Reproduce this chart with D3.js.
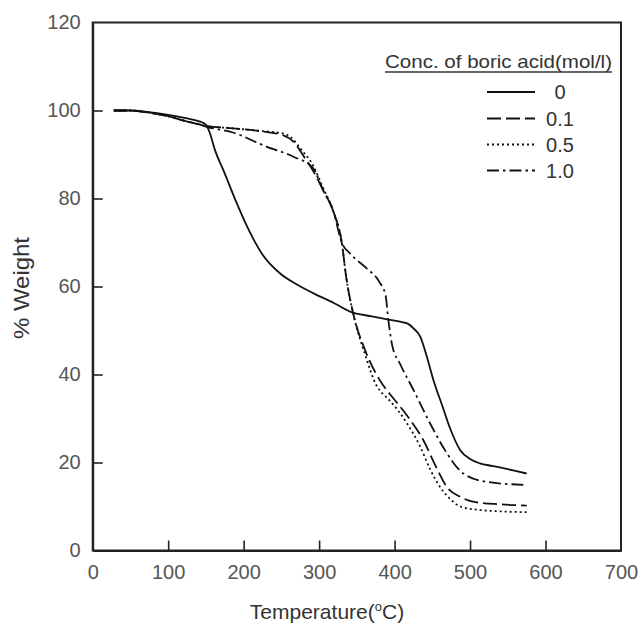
<!doctype html>
<html lang="en">

<head>
    <meta charset="utf-8" />
    <title>TGA boric acid</title>
    <script src="https://d3js.org/d3.v7.min.js"></script>
    <style>
        body {
            margin: 0;
            background: #fff;
        }

        text {
            font-family: "Liberation Sans", Arial, sans-serif;
        }
    </style>
</head>

<body>
    <div id="chart"></div>

    <script>
        // data (temperature in C, % weight)
        const xTicks = [0, 100, 200, 300, 400, 500, 600, 700]
        const yTicks = [0, 20, 40, 60, 80, 100, 120]
        const concLabels = ["0", "0.1", "0.5", "1.0"]

        const temp0 = [28, 50, 75, 100, 125, 140, 150, 155, 162, 173, 191, 205, 224, 248, 270, 292, 320, 341, 370, 394, 410, 418, 425, 434, 442, 451, 464, 473, 487, 500, 513, 530, 544, 560, 575]
        const weight0 = [100, 100, 99.6, 99, 98.2, 97.6, 96.8, 95, 91, 86.5, 78.9, 73.5, 67.5, 63, 60.5, 58.5, 56.2, 54.3, 53.2, 52.4, 51.9, 51.5, 50.5, 48.6, 44.5, 39, 32.5, 28, 22.8, 20.8, 19.8, 19.2, 18.7, 18.1, 17.5]

        const temp01 = [28, 50, 75, 100, 125, 140, 150, 182, 226, 252, 266, 280, 292, 305, 319, 330, 336, 345, 361, 376, 385, 394, 416, 438, 455, 469, 487, 504, 540, 575]
        const weight01 = [100, 100, 99.5, 98.7, 97.5, 96.9, 96.5, 96, 95.2, 94.4, 92.9, 89.5, 86.3, 82, 77, 70, 62, 54, 45.5, 40, 37.5, 35.5, 30.8, 25.1, 19, 14.5, 12.2, 11.1, 10.5, 10.2]

        const temp05 = [28, 50, 75, 100, 125, 140, 150, 182, 226, 252, 262, 275, 292, 305, 319, 330, 336, 345, 361, 376, 385, 394, 416, 434, 447, 460, 475, 487, 513, 540, 575]
        const weight05 = [100, 100, 99.5, 98.7, 97.5, 96.9, 96.5, 96, 95.3, 94.8, 94, 91.4, 87.5, 82.5, 77, 70, 62, 54, 44.5, 37.5, 35.5, 34, 29, 23.6, 18.5, 14.5, 11.5, 10, 9.2, 8.9, 8.7]

        const temp10 = [28, 50, 75, 100, 125, 140, 151, 186, 230, 266, 292, 305, 319, 330, 341, 363, 380, 388, 392, 397, 407, 425, 447, 464, 491, 522, 575]
        const weight10 = [100, 100, 99.5, 98.7, 97.5, 96.9, 96.3, 95, 91.8, 89.5, 86.9, 82, 77, 70, 67.5, 64.1, 61, 58, 52, 46.5, 42.5, 36.5, 28.9, 23.6, 17.5, 15.6, 14.9]

        const series = [
            { label: concLabels[0], t: temp0, w: weight0, dash: null },
            { label: concLabels[1], t: temp01, w: weight01, dash: "14,5" },
            { label: concLabels[2], t: temp05, w: weight05, dash: "2,3" },
            { label: concLabels[3], t: temp10, w: weight10, dash: "12,4,2.5,4" }
        ]

        const width = 640
        const height = 625
        const plotLeft = 92.7, plotRight = 621, plotTop = 22.5, plotBottom = 550.5

        const svg = d3.select("#chart")
            .append("svg")
            .attr("width", width)
            .attr("height", height)

        const x = d3.scaleLinear().domain([0, 700]).range([plotLeft, plotRight])
        const y = d3.scaleLinear().domain([0, 120]).range([plotBottom, plotTop])

        // frame
        svg.append("rect")
            .attr("x", plotLeft)
            .attr("y", plotTop)
            .attr("width", plotRight - plotLeft)
            .attr("height", plotBottom - plotTop)
            .attr("fill", "none")
            .attr("stroke", "#222")
            .attr("stroke-width", 2)

        // axes, ticks pointing inward
        const xAxis = svg.append("g")
            .attr("transform", `translate(0,${plotBottom})`)
            .call(d3.axisBottom(x).tickValues(xTicks).tickSizeInner(-10).tickSizeOuter(0).tickPadding(14))
        const yAxis = svg.append("g")
            .attr("transform", `translate(${plotLeft},0)`)
            .call(d3.axisLeft(y).tickValues(yTicks).tickSizeInner(-10).tickSizeOuter(0).tickPadding(12))

        for (const ax of [xAxis, yAxis]) {
            ax.select(".domain").attr("stroke", "#222").attr("stroke-width", 2)
            ax.selectAll(".tick line").attr("stroke", "#222").attr("stroke-width", 1.6)
            ax.selectAll(".tick text")
                .attr("fill", "#555")
                .style("font-size", "20px")
                .style("font-family", "'Liberation Sans', Arial, sans-serif")
        }
        // no tick marks at the frame corners
        xAxis.selectAll(".tick").filter(d => d == 0 || d == 700).select("line").remove()
        yAxis.selectAll(".tick").filter(d => d == 0 || d == 120).select("line").remove()

        // axis titles
        const xTitle = svg.append("text")
            .attr("x", 327)
            .attr("y", 619)
            .attr("text-anchor", "middle")
            .attr("fill", "#333")
            .style("font-size", "21px")
        xTitle.append("tspan").text("Temperature(")
        xTitle.append("tspan").text("o").style("font-size", "13px").attr("dy", -8)
        xTitle.append("tspan").text("C)").attr("dy", 8)

        svg.append("text")
            .attr("transform", "translate(29,288) rotate(-90)")
            .attr("text-anchor", "middle")
            .attr("fill", "#333")
            .attr("textLength", 102)
            .attr("lengthAdjust", "spacingAndGlyphs")
            .style("font-size", "22px")
            .text("% Weight")

        // curves
        const line = d3.line()
            .x(d => x(d[0]))
            .y(d => y(d[1]))
            .curve(d3.curveMonotoneX)

        series.forEach(s => {
            const pts = s.t.map((t, i) => [t, s.w[i]])
            svg.append("path")
                .datum(pts)
                .attr("d", line)
                .attr("fill", "none")
                .attr("stroke", "#111")
                .attr("stroke-width", 1.8)
                .attr("stroke-dasharray", s.dash)
        })

        // legend
        svg.append("text")
            .attr("x", 385)
            .attr("y", 68)
            .attr("fill", "#333")
            .attr("textLength", 227)
            .attr("lengthAdjust", "spacingAndGlyphs")
            .style("font-size", "19px")
            .text("Conc. of boric acid(mol/l)")
        svg.append("line")
            .attr("x1", 385).attr("x2", 612)
            .attr("y1", 72).attr("y2", 72)
            .attr("stroke", "#333")
            .attr("stroke-width", 1.3)

        const rowY = [92, 118.5, 144.5, 170.5]
        series.forEach((s, i) => {
            svg.append("line")
                .attr("x1", 487).attr("x2", 535)
                .attr("y1", rowY[i]).attr("y2", rowY[i])
                .attr("stroke", "#111")
                .attr("stroke-width", 1.8)
                .attr("stroke-dasharray", s.dash)
            svg.append("text")
                .attr("x", 560)
                .attr("y", rowY[i])
                .attr("dy", "0.35em")
                .attr("text-anchor", "middle")
                .attr("fill", "#333")
                .style("font-size", "20px")
                .text(s.label)
        })
    </script>
</body>

</html>
